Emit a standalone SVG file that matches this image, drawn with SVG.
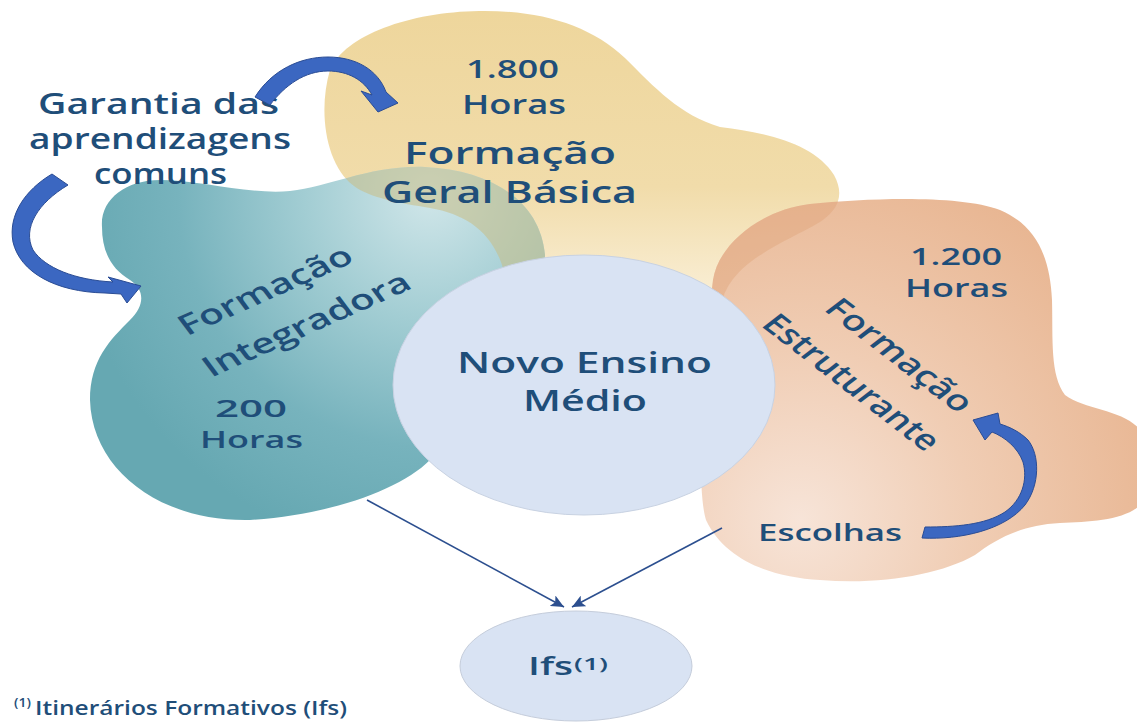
<svg xmlns="http://www.w3.org/2000/svg" width="1137" height="722" viewBox="0 0 1137 722">
<style>
.t{font-family:'Open Sans','Liberation Sans',sans-serif;font-weight:600;fill:#1f4e79;}
.arrow{fill:#3b67c1;stroke:#2a4c94;stroke-width:1;}
.conn{stroke:#2c4f8f;stroke-width:1.6;fill:none;marker-end:url(#ah);}
</style>
<defs>
<linearGradient id="gY" x1="0" y1="0" x2="0" y2="1">
<stop offset="0" stop-color="#eed69c"/>
<stop offset="0.55" stop-color="#f1dcaa"/>
<stop offset="1" stop-color="#fcf4e2"/>
</linearGradient>
<radialGradient id="gT" gradientUnits="userSpaceOnUse" cx="430" cy="195" r="360">
<stop offset="0" stop-color="#d0e6e9"/>
<stop offset="0.35" stop-color="#a2cdd3"/>
<stop offset="0.7" stop-color="#77b3bd"/>
<stop offset="1" stop-color="#66a8b2"/>
</radialGradient>
<radialGradient id="gO" gradientUnits="userSpaceOnUse" cx="800" cy="520" r="380">
<stop offset="0" stop-color="#f7e4d8"/>
<stop offset="0.45" stop-color="#f0cdb4"/>
<stop offset="1" stop-color="#e8b591"/>
</radialGradient>
<path id="pYellow" d="M330,70 C345,35 410,12 479,11 C540,10 590,25 625,58 C655,88 680,115 720,127 C770,133 815,145 834,175 C845,195 838,210 820,222 C780,245 735,260 722,300 L650,330 L505,275 C495,235 470,215 430,208 C400,203 370,198 354,186 C325,165 318,110 330,70 Z"/>
<path id="pTeal" d="M102,227 C100,200 125,180 160,180 C200,180 250,195 290,191 C330,187 370,165 425,167 C490,170 540,200 545,255 C545,330 480,400 430,460 C400,490 330,515 250,520 C160,522 92,470 90,400 C90,360 110,340 130,320 C145,305 145,290 130,280 C110,268 102,250 102,227 Z"/>
<path id="pOrange" d="M713,280 C718,245 760,210 810,204 C870,198 960,195 1000,210 C1035,225 1050,255 1052,300 C1053,340 1050,375 1065,395 C1085,410 1125,410 1140,430 L1140,505 C1125,520 1090,522 1060,523 C1020,525 995,540 975,555 C940,575 880,585 820,580 C770,577 725,560 706,520 C698,495 698,400 713,280 Z"/>
<clipPath id="cT"><use href="#pTeal"/></clipPath>
<clipPath id="cO"><use href="#pOrange"/></clipPath>
<marker id="ah" markerWidth="14" markerHeight="12" refX="13" refY="6" orient="auto" markerUnits="userSpaceOnUse">
<path d="M0,0 L13,6 L0,12 L3,6 Z" fill="#2c4f8f"/>
</marker>
</defs>
<rect width="1137" height="722" fill="#ffffff"/>

<g id="formacao-geral-basica">
<use href="#pYellow" fill="url(#gY)"/>
</g>
<g id="formacao-integradora">
<use href="#pTeal" fill="url(#gT)"/>
<use href="#pYellow" fill="#c9be85" opacity="0.55" clip-path="url(#cT)"/>
</g>
<g id="formacao-estruturante">
<use href="#pOrange" fill="url(#gO)"/>
<use href="#pYellow" fill="#dc9f70" opacity="0.35" clip-path="url(#cO)"/>
</g>
<g id="novo-ensino-medio">
<ellipse cx="584" cy="385" rx="191" ry="130" fill="#d9e3f3" stroke="#c8d2e2" stroke-width="1"/>
<text class="t" x="457" y="373" font-size="28" textLength="255" lengthAdjust="spacingAndGlyphs">Novo Ensino</text>
<text class="t" x="523" y="411" font-size="28" textLength="124" lengthAdjust="spacingAndGlyphs">Médio</text>
</g>
<g id="ifs">
<ellipse cx="576" cy="666" rx="116" ry="55" fill="#d9e3f3" stroke="#c5cddb" stroke-width="1"/>
<text class="t" x="528" y="675" font-size="26" textLength="45" lengthAdjust="spacingAndGlyphs">Ifs</text>
<text class="t" x="574" y="670" font-size="17" textLength="34" lengthAdjust="spacingAndGlyphs">(1)</text>
</g>

<g id="texts-geral">
<text class="t" x="466" y="78" font-size="25" textLength="93" lengthAdjust="spacingAndGlyphs">1.800</text>
<text class="t" x="462" y="114" font-size="27" textLength="104" lengthAdjust="spacingAndGlyphs">Horas</text>
<text class="t" x="404" y="164" font-size="30" textLength="212" lengthAdjust="spacingAndGlyphs">Formação</text>
<text class="t" x="382" y="203" font-size="30" textLength="255" lengthAdjust="spacingAndGlyphs">Geral Básica</text>
</g>
<g id="texts-integradora">
<g transform="translate(265,290) scale(1.3,1) rotate(-30)"><text class="t" x="0" y="10" font-size="28" text-anchor="middle" textLength="150" lengthAdjust="spacingAndGlyphs">Formação</text></g>
<g transform="translate(306,324) scale(1.3,1) rotate(-30)"><text class="t" x="0" y="10" font-size="28" text-anchor="middle" textLength="180" lengthAdjust="spacingAndGlyphs">Integradora</text></g>
<text class="t" x="215" y="417" font-size="24" textLength="72" lengthAdjust="spacingAndGlyphs">200</text>
<text class="t" x="200" y="448" font-size="24" textLength="103" lengthAdjust="spacingAndGlyphs">Horas</text>
</g>
<g id="texts-estruturante">
<text class="t" x="910" y="265" font-size="24" textLength="92" lengthAdjust="spacingAndGlyphs">1.200</text>
<text class="t" x="905" y="297" font-size="25" textLength="103" lengthAdjust="spacingAndGlyphs">Horas</text>
<g transform="translate(900,355) scale(1.3,1) rotate(45)"><text class="t" x="0" y="10" font-size="28" text-anchor="middle" textLength="148" lengthAdjust="spacingAndGlyphs">Formação</text></g>
<g transform="translate(852,382) scale(1.3,1) rotate(45)"><text class="t" x="0" y="10" font-size="28" text-anchor="middle" textLength="180" lengthAdjust="spacingAndGlyphs">Estruturante</text></g>
</g>

<g id="garantia">
<text class="t" x="38" y="114" font-size="28" textLength="241" lengthAdjust="spacingAndGlyphs">Garantia das</text>
<text class="t" x="29" y="149" font-size="28" textLength="262" lengthAdjust="spacingAndGlyphs">aprendizagens</text>
<text class="t" x="94" y="184" font-size="28" textLength="133" lengthAdjust="spacingAndGlyphs">comuns</text>
</g>
<g id="escolhas">
<text class="t" x="758" y="541" font-size="24" textLength="144" lengthAdjust="spacingAndGlyphs">Escolhas</text>
</g>

<g id="connectors">
<path class="arrow" d="M255,97 C272,70 300,57 328,57 C356,57 378,70 386,92 L398,103 L378,112 L361,91 L372,95 C364,80 348,71 328,71 C305,71 285,85 270,105 Z"/>
<path class="arrow" d="M52,174 C25,190 8,215 13,242 C20,272 55,292 105,293 L121,294 L127,303 L141,286 L108,277 L113,282 C75,280 45,268 33,250 C22,228 38,203 68,185 Z"/>
<path class="arrow" d="M922,538 C960,540 1005,530 1025,505 C1040,485 1040,455 1028,440 C1020,432 1010,427 1000,424 L998,413 L973,420 L985,440 L992,432 C1005,437 1018,448 1023,462 C1028,480 1022,500 1005,512 C985,525 955,527 925,527 Z"/>
<line class="conn" x1="367" y1="500" x2="564" y2="607"/>
<line class="conn" x1="722" y1="528" x2="572" y2="607"/>
</g>

<g id="footnote">
<text class="t" x="14" y="707" font-size="13" textLength="17" lengthAdjust="spacingAndGlyphs">(1)</text>
<text class="t" x="35" y="715" font-size="20" textLength="312" lengthAdjust="spacingAndGlyphs">Itinerários Formativos (Ifs)</text>
</g>
</svg>
